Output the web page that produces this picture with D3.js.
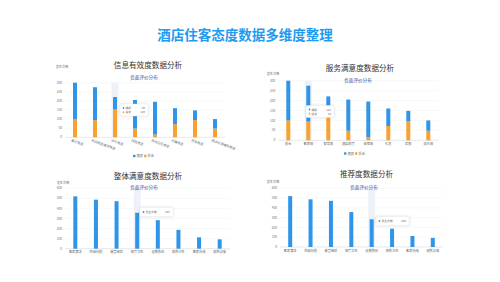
<!DOCTYPE html>
<html>
<head>
<meta charset="utf-8">
<script src="https://cdn.jsdelivr.net/npm/d3@7"></script>
<style>
  body { margin: 0; background: #fff; }
  svg { display: block; font-family: "Noto Sans CJK SC", "Noto Sans", sans-serif; }
</style>
</head>
<body>
<svg id="chart" width="500" height="282"></svg>
<script>
// data
var infoCats = ["餐厅信息", "房间信息描述信息", "WiFi信息", "接驳信息", "房间卫生信息", "设施信息", "停车信息", "周边交通便利信息"];
var serviceCats = ["前台", "客房部", "餐饮部", "酒店前厅", "安保部", "礼宾", "后勤", "康乐部"];
var notifyVals = [200, 181, 68, 157, 180, 88, 53, 52];   // 通报
var complainVals = [100, 94, 153, 48, 15, 72, 95, 48];  // 投诉
var overallCats = ["客房清洁", "空调问题", "噪音困扰", "餐厅卫生", "设施陈旧", "厕所卫生", "客房光线", "厕所异味"];
var recommendCats = ["客房清洁", "空调问题", "噪音困扰", "餐厅卫生", "设施陈旧", "厕所卫生", "客房光线", "厕所异味"];
var countVals = [520, 487, 472, 357, 283, 187, 113, 93]; // 发生次数
var seriesNames = ["通报", "投诉"];

var blue = "#2f95e8", orange = "#f8a12e";
var svg = d3.select("#chart");

svg.append("text")
    .attr("x", 245).attr("y", 39.5)
    .attr("text-anchor", "middle")
    .attr("font-size", 13.5).attr("font-weight", "bold")
    .attr("fill", "#1f9bf0")
    .text("酒店住客态度数据多维度整理");

var panels = [
  {title: "信息有效度数据分析", tx: 148, ty: 68, sy: 79, sx: 144, cats: infoCats, stacked: true,
   x0: 65, x1: 225, y0: 137.3, y1: 82.7, max: 300, step: 50, rotate: true, hl: 2, tip: [120, 104],
   ylx: 62, yly: 68, leg: [133, 156]},
  {title: "服务满意度数据分析", tx: 360, ty: 70.5, sy: 81.5, sx: 358, cats: serviceCats, stacked: true,
   x0: 278.3, x1: 438.3, y0: 140.3, y1: 80.7, max: 300, step: 50, rotate: false, hl: 1, tip: [306, 105.5],
   ylx: 273, yly: 75, leg: [344, 153.5]},
  {title: "整体满意度数据分析", tx: 148, ty: 178.5, sy: 188.5, sx: 144, cats: overallCats, stacked: false,
   x0: 65, x1: 230, y0: 248.7, y1: 188.3, max: 600, step: 100, rotate: false, hl: 3, tip: [140, 207.5],
   ylx: 63, yly: 183.5},
  {title: "推荐度数据分析", tx: 366.5, ty: 177, sy: 189, sx: 364, cats: recommendCats, stacked: false,
   x0: 280, x1: 443, y0: 247, y1: 188.3, max: 600, step: 100, rotate: false, hl: 4, tip: [376, 216.5],
   ylx: 273, yly: 182.5}
];

panels.forEach(drawPanel);

function drawPanel(p) {
    var g = svg.append("g");
    var x = d3.scaleBand().domain(p.cats).range([p.x0, p.x1]);
    var y = d3.scaleLinear().domain([0, p.max]).range([p.y0, p.y1]);
    var ticks = d3.range(0, p.max + 1, p.step);
    var bw = 4;

    // grid
    g.selectAll(".grid").data(ticks.slice(1)).enter().append("line")
        .attr("x1", p.x0).attr("x2", p.x1)
        .attr("y1", function(d) { return y(d); }).attr("y2", function(d) { return y(d); })
        .attr("stroke", "#eef0f3").attr("stroke-width", 0.5);

    // y axis labels
    g.selectAll(".ytick").data(ticks).enter().append("text")
        .attr("x", p.x0 - 3).attr("y", function(d) { return y(d) + 1.1; })
        .attr("text-anchor", "end").attr("font-size", 3.2).attr("fill", "#777")
        .text(function(d) { return d; });
    g.append("text").attr("x", p.ylx).attr("y", p.yly)
        .attr("text-anchor", "middle").attr("font-size", 3.2).attr("fill", "#777")
        .text("发生次数");

    // highlight shadow
    var hx = x(p.cats[p.hl]) + x.bandwidth() / 2;
    g.append("rect").attr("x", hx - 3.5).attr("width", 7)
        .attr("y", p.y1).attr("height", p.y0 - p.y1)
        .attr("fill", "#eef2f8");

    // x axis
    g.append("line").attr("x1", p.x0).attr("x2", p.x1).attr("y1", p.y0).attr("y2", p.y0)
        .attr("stroke", "#d5d9e0").attr("stroke-width", 0.6);

    var cx = function(d, i) { return x(p.cats[i]) + x.bandwidth() / 2 - bw / 2; };
    if (p.stacked) {
        g.selectAll(".bo").data(complainVals).enter().append("rect")
            .attr("x", cx).attr("width", bw)
            .attr("y", function(d) { return y(d); })
            .attr("height", function(d) { return p.y0 - y(d); })
            .attr("fill", orange);
        g.selectAll(".bb").data(notifyVals).enter().append("rect")
            .attr("x", cx).attr("width", bw)
            .attr("y", function(d, i) { return y(d + complainVals[i]); })
            .attr("height", function(d) { return p.y0 - y(d); })
            .attr("fill", blue);
    } else {
        g.selectAll(".bb").data(countVals).enter().append("rect")
            .attr("x", cx).attr("width", bw)
            .attr("y", function(d) { return y(d); })
            .attr("height", function(d) { return p.y0 - y(d); })
            .attr("fill", blue);
    }

    // x labels
    var xl = g.selectAll(".xl").data(p.cats).enter().append("text")
        .attr("font-size", 3.2).attr("fill", "#666")
        .text(function(d) { return d; });
    if (p.rotate) {
        xl.attr("text-anchor", "start")
          .attr("transform", function(d) {
              return "translate(" + (x(d) + x.bandwidth() / 2 - 4) + "," + (p.y0 + 4) + ") rotate(20)";
          });
    } else {
        xl.attr("text-anchor", "middle")
          .attr("x", function(d) { return x(d) + x.bandwidth() / 2; })
          .attr("y", p.y0 + 4.5);
    }

    // titles
    g.append("text").attr("x", p.tx).attr("y", p.ty).attr("text-anchor", "middle")
        .attr("font-size", 7.6).attr("fill", "#333").text(p.title);
    g.append("text").attr("x", p.sx).attr("y", p.sy).attr("text-anchor", "middle")
        .attr("font-size", 4.6).attr("fill", "#2e4c9a").text("负面评价分布");

    // legend
    if (p.leg) {
        var lg = g.append("g").attr("transform", "translate(" + p.leg[0] + "," + p.leg[1] + ")");
        [blue, orange].forEach(function(c, i) {
            lg.append("rect").attr("x", i * 11).attr("y", -1.2).attr("width", 2.4).attr("height", 2.4)
                .attr("rx", 0.4).attr("fill", c);
            lg.append("text").attr("x", i * 11 + 3.6).attr("y", 1.1).attr("font-size", 3.2)
                .attr("fill", "#666").text(seriesNames[i]);
        });
    }

    // tooltip
    var tg = g.append("g").attr("transform", "translate(" + p.tip[0] + "," + p.tip[1] + ")");
    var rows = p.stacked
        ? [[blue, seriesNames[0], notifyVals[p.hl]], [orange, seriesNames[1], complainVals[p.hl]]]
        : [[blue, "发生次数", countVals[p.hl]]];
    var tw = p.stacked ? 28 : 33, th = p.stacked ? 12 : 9;
    tg.append("rect").attr("width", tw).attr("height", th).attr("rx", 1)
        .attr("fill", "#fff").attr("stroke", "#e6e9ee").attr("stroke-width", 0.5)
        .style("filter", "drop-shadow(0 0 1.5px rgba(0,0,0,0.12))");
    rows.forEach(function(r, i) {
        var ry = (p.stacked ? 4 : 4.5) + i * 4.2;
        tg.append("circle").attr("cx", 3.5).attr("cy", ry).attr("r", 0.9).attr("fill", r[0]);
        tg.append("text").attr("x", 5.5).attr("y", ry + 1).attr("font-size", 2.8).attr("fill", "#666").text(r[1]);
        tg.append("text").attr("x", tw - 3).attr("y", ry + 1).attr("text-anchor", "end")
            .attr("font-size", 2.8).attr("fill", "#666").text(r[2]);
    });
}
</script>
</body>
</html>
